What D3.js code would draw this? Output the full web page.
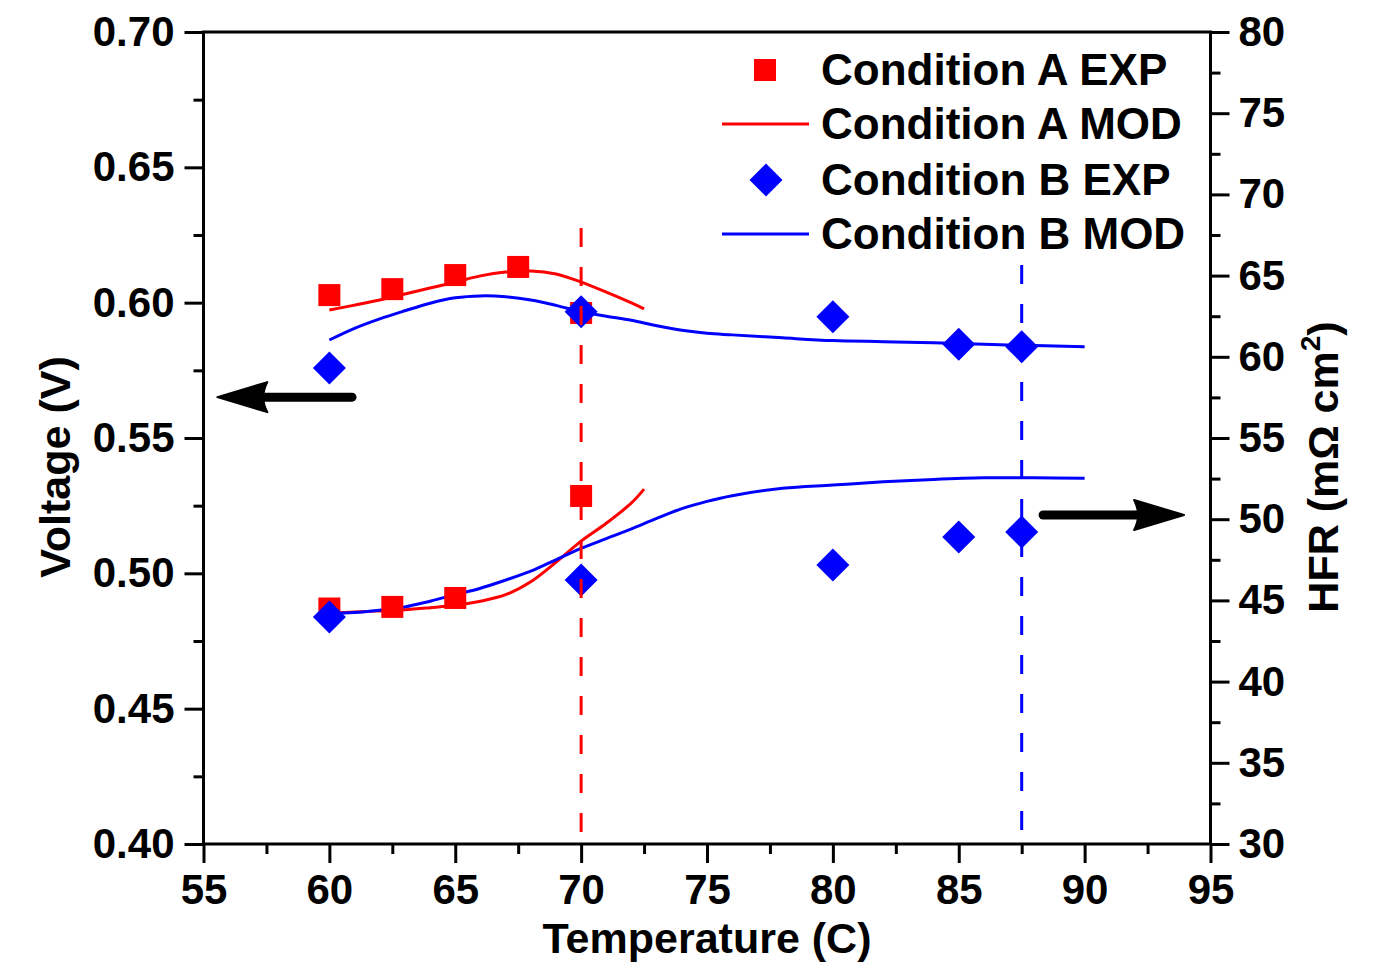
<!DOCTYPE html>
<html><head><meta charset="utf-8">
<script src="https://cdn.jsdelivr.net/npm/d3@7/dist/d3.min.js"></script>
<style>
html,body{margin:0;padding:0;background:#fff;}
svg text{font-family:"Liberation Sans",Arial,sans-serif;font-weight:bold;fill:#000;}
</style></head>
<body>
<svg id="chart" width="1383" height="965"></svg>
<script>
// ---- data ----
const xTicks = [55,60,65,70,75,80,85,90,95];
const yLeftTicks = [0.40,0.45,0.50,0.55,0.60,0.65,0.70];
const yRightTicks = [30,35,40,45,50,55,60,65,70,75,80];

// Experimental voltage (V)
const expA_T = [60,62.5,65,67.5,70];
const expA_V = [0.6028,0.6050,0.6102,0.6132,0.5962];
const expB_T = [60,70,80,85,87.5];
const expB_V = [0.5759,0.5966,0.5948,0.5846,0.5837];
// Experimental HFR (mOhm cm2)
const expA_H = [44.5,44.6,45.15,null,51.43];
const expB_H = [43.98,46.26,47.18,48.90,49.21];

// Model voltage
const modA_T = [60,61,62,63,64,65,66,67,68,69,70,71,72,72.5];
const modA_V = [0.5973,0.5991,0.6010,0.6032,0.6054,0.6076,0.6099,0.6113,0.6117,0.6106,0.6076,0.6039,0.5999,0.5977];
const modB_T = [60,61,62,63,64,65,66,67,68,69,70,71,72,73,74,75,76,78,80,82,84,86,88,90];
const modB_V = [0.5862,0.5905,0.5940,0.5970,0.5998,0.6018,0.6025,0.6022,0.6010,0.5990,0.5966,0.5950,0.5935,0.5915,0.5898,0.5887,0.5881,0.5870,0.5860,0.5856,0.5852,0.5846,0.5842,0.5837];
// Model HFR
const modA_H = [44.22,44.28,44.35,44.42,44.55,44.7,44.95,45.35,46.15,47.35,48.65,49.75,51.0,51.85];
const modB_H = [44.2,44.25,44.4,44.6,44.95,45.35,45.75,46.25,46.8,47.5,48.2,48.8,49.4,50.05,50.65,51.1,51.45,51.9,52.1,52.3,52.45,52.55,52.55,52.52];

// Vertical dashed markers (temperature, top in voltage units)
const markerT = [70,87.5];
const markerTop = [0.6276,0.6139];
const markerColor = ["#ff0000","#0000ff"];

const legendLabels = ["Condition A EXP","Condition A MOD","Condition B EXP","Condition B MOD"];

// ---- layout ----
const RED="#ff0000", BLUE="#0000ff";
const svg = d3.select("#chart");
const L=203.5, R=1210.5, T=32, B=844;
const x = d3.scaleLinear().domain([55,95]).range([L,R]);
const yL = d3.scaleLinear().domain([0.40,0.70]).range([B,T]);
const yR = d3.scaleLinear().domain([30,80]).range([B,T]);

function minorBetween(ticks){const m=[];for(let i=0;i<ticks.length-1;i++)m.push((ticks[i]+ticks[i+1])/2);return m;}

function styleAxis(g){
  g.selectAll("path.domain").remove();
  g.selectAll(".tick line").attr("stroke","#000").attr("stroke-width",3);
  g.selectAll(".tick text").style("font-size","42px");
}

// axes: left
svg.append("g").attr("transform",`translate(${L},0)`)
  .call(d3.axisLeft(yL).tickValues(yLeftTicks).tickSize(19).tickPadding(10).tickFormat(d3.format(".2f")))
  .call(styleAxis);
svg.append("g").attr("transform",`translate(${L},0)`)
  .call(d3.axisLeft(yL).tickValues(minorBetween(yLeftTicks)).tickSize(10).tickFormat(""))
  .call(styleAxis);
// right
svg.append("g").attr("transform",`translate(${R},0)`)
  .call(d3.axisRight(yR).tickValues(yRightTicks).tickSize(19).tickPadding(9).tickFormat(d3.format("d")))
  .call(styleAxis);
svg.append("g").attr("transform",`translate(${R},0)`)
  .call(d3.axisRight(yR).tickValues(minorBetween(yRightTicks)).tickSize(10).tickFormat(""))
  .call(styleAxis);
// bottom
svg.append("g").attr("transform",`translate(0,${B})`)
  .call(d3.axisBottom(x).tickValues(xTicks).tickSize(19).tickPadding(11).tickFormat(d3.format("d")))
  .call(styleAxis);
svg.append("g").attr("transform",`translate(0,${B})`)
  .call(d3.axisBottom(x).tickValues(minorBetween(xTicks)).tickSize(10).tickFormat(""))
  .call(styleAxis);

// frame
svg.append("rect").attr("x",L).attr("y",T).attr("width",R-L).attr("height",B-T)
  .attr("fill","none").attr("stroke","#000").attr("stroke-width",3);

// axis titles
svg.append("text").attr("x",(L+R)/2).attr("y",953).attr("text-anchor","middle")
  .style("font-size","43px").text("Temperature (C)");
svg.append("text").attr("transform","translate(70,467) rotate(-90)").attr("text-anchor","middle")
  .style("font-size","43px").text("Voltage (V)");
const rt = svg.append("text").attr("transform","translate(1338,467) rotate(-90)").attr("text-anchor","middle")
  .style("font-size","43px");
rt.append("tspan").text("HFR (m\u03A9 cm");
rt.append("tspan").attr("dy",-18).style("font-size","28px").text("2");
rt.append("tspan").attr("dy",18).text(")");

// model lines
const curveT = d3.curveCatmullRom.alpha(0.5);
const lineV = (ts,vs)=>d3.line().curve(curveT).x((d,i)=>x(ts[i])).y((d,i)=>yL(vs[i]))(ts);
const lineH = (ts,hs)=>d3.line().curve(curveT).x((d,i)=>x(ts[i])).y((d,i)=>yR(hs[i]))(ts);
const curves = [
  {d:lineV(modA_T,modA_V),c:RED},
  {d:lineH(modA_T,modA_H),c:RED},
  {d:lineV(modB_T,modB_V),c:BLUE},
  {d:lineH(modB_T,modB_H),c:BLUE},
];
svg.append("g").selectAll("path").data(curves).join("path")
  .attr("d",d=>d.d).attr("fill","none").attr("stroke",d=>d.c).attr("stroke-width",3);

// squares
const sq = 22;
const sqPts = [];
expA_T.forEach((t,i)=>{sqPts.push([x(t),yL(expA_V[i])]); if(expA_H[i]!=null) sqPts.push([x(t),yR(expA_H[i])]);});
svg.append("g").selectAll("rect").data(sqPts).join("rect")
  .attr("x",d=>d[0]-sq/2).attr("y",d=>d[1]-sq/2).attr("width",sq).attr("height",sq).attr("fill",RED);

// diamonds
const dmPts = [];
expB_T.forEach((t,i)=>{dmPts.push([x(t),yL(expB_V[i])]); dmPts.push([x(t),yR(expB_H[i])]);});
const dh = 16.5;
const diamondPath = (cx,cy)=>`M${cx},${cy-dh}L${cx+dh},${cy}L${cx},${cy+dh}L${cx-dh},${cy}Z`;
svg.append("g").selectAll("path").data(dmPts).join("path")
  .attr("d",d=>diamondPath(d[0],d[1])).attr("fill",BLUE);

// dashed markers
svg.append("g").selectAll("line").data(markerT).join("line")
  .attr("x1",d=>x(d)).attr("x2",d=>x(d))
  .attr("y1",(d,i)=>yL(markerTop[i])).attr("y2",B)
  .attr("stroke",(d,i)=>markerColor[i]).attr("stroke-width",3).attr("stroke-dasharray","19,20");

// arrows
function arrow(x1,x2,y){
  const dir = x2<x1?-1:1;
  const headLen=50, headHalf=15;
  const base = x2 - dir*headLen;
  svg.append("line").attr("x1",x1).attr("x2",base+dir*4).attr("y1",y).attr("y2",y)
    .attr("stroke","#000").attr("stroke-width",9).attr("stroke-linecap","round");
  svg.append("path").attr("d",`M${x2},${y}L${base},${y-headHalf}Q${base+dir*8},${y} ${base},${y+headHalf}Z`)
    .attr("fill","#000").attr("stroke","#000").attr("stroke-width",2).attr("stroke-linejoin","round");
}
arrow(x(60.9), x(55.55), yL(0.5651));
arrow(x(88.35), x(93.95), yR(50.26));

// legend
const lg = svg.append("g");
const rowsY = [70,124,180,234];
lg.append("rect").attr("x",765-sq/2).attr("y",rowsY[0]-sq/2).attr("width",sq).attr("height",sq).attr("fill",RED);
lg.append("line").attr("x1",722).attr("x2",809).attr("y1",rowsY[1]).attr("y2",rowsY[1]).attr("stroke",RED).attr("stroke-width",3);
lg.append("path").attr("d",diamondPath(766,rowsY[2])).attr("fill",BLUE);
lg.append("line").attr("x1",722).attr("x2",809).attr("y1",rowsY[3]).attr("y2",rowsY[3]).attr("stroke",BLUE).attr("stroke-width",3);
lg.selectAll("text").data(legendLabels).join("text")
  .attr("x",821).attr("y",(d,i)=>rowsY[i]+15).style("font-size","44px").text(d=>d);
</script>
</body></html>
